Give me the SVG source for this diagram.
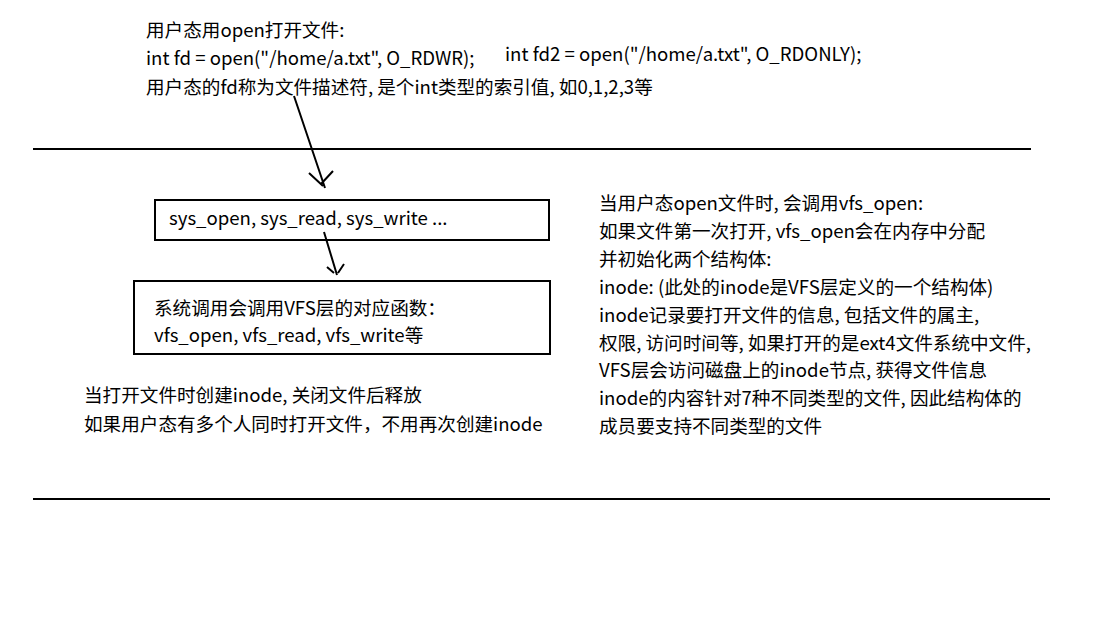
<svg xmlns="http://www.w3.org/2000/svg" width="1111" height="635" viewBox="0 0 1111 635">
<style>
text{font-family:"Noto Sans CJK SC","Noto Sans",sans-serif;font-size:18.6px;fill:#000}
.box{fill:none;stroke:#000;stroke-width:2}
.ln{stroke:#000;stroke-width:2;fill:none}
</style>
<rect width="1111" height="635" fill="#fff"/>
<g id="sep">
<line class="ln" x1="33" y1="149" x2="1031" y2="149"/>
<line class="ln" x1="33" y1="499" x2="1050" y2="499"/>
</g>
<g id="top-text">
<text x="146" y="37">用户态用open打开文件:</text>
<text x="146" y="65">int fd = open("/home/a.txt", O_RDWR);</text>
<text x="146" y="94">用户态的fd称为文件描述符, 是个int类型的索引值, 如0,1,2,3等</text>
<text x="505" y="61">int fd2 = open("/home/a.txt", O_RDONLY);</text>
</g>
<g id="sys">
<rect class="box" x="155" y="200" width="394" height="40"/>
<text x="169" y="225">sys_open, sys_read, sys_write ...</text>
</g>
<g id="vfs">
<rect class="box" x="134" y="281" width="416" height="73"/>
<text x="154" y="315">系统调用会调用VFS层的对应函数：</text>
<text x="154" y="342">vfs_open, vfs_read, vfs_write等</text>
</g>
<g id="note-left">
<text x="84" y="402">当打开文件时创建inode, 关闭文件后释放</text>
<text x="84" y="431">如果用户态有多个人同时打开文件，不用再次创建inode</text>
</g>
<g id="note-right">
<text x="599" y="210">当用户态open文件时, 会调用vfs_open:</text>
<text x="599" y="238">如果文件第一次打开, vfs_open会在内存中分配</text>
<text x="599" y="266">并初始化两个结构体:</text>
<text x="599" y="294">inode: (此处的inode是VFS层定义的一个结构体)</text>
<text x="599" y="322">inode记录要打开文件的信息, 包括文件的属主,</text>
<text x="599" y="350">权限, 访问时间等, 如果打开的是ext4文件系统中文件,</text>
<text x="599" y="377">VFS层会访问磁盘上的inode节点, 获得文件信息</text>
<text x="599" y="405">inode的内容针对7种不同类型的文件, 因此结构体的</text>
<text x="599" y="433">成员要支持不同类型的文件</text>
</g>
<g id="connectors">
<path class="ln" d="M294,96 L325,188 M309,173 L323,186 M333,171 L321,184"/>
<path class="ln" d="M324,232 L337,275 M327,267 L334,273 M344,264 L338,273"/>
</g>
</svg>
